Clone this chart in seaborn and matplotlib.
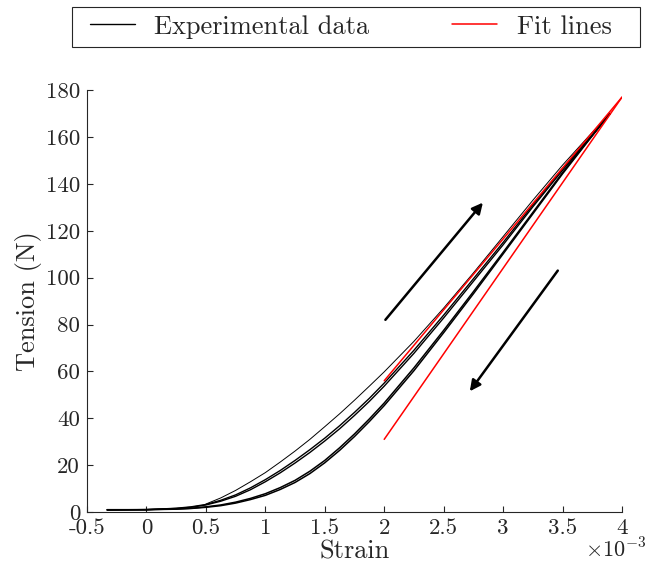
import numpy as np
import matplotlib
matplotlib.use("Agg")
import matplotlib.pyplot as plt
import seaborn as sns
from matplotlib.patches import Rectangle

# Strain in units of 1e-3, tension in N
strain = [-0.33, 0, 0.25, 0.375, 0.5, 0.625, 0.75, 0.875, 1.0, 1.125,
          1.25, 1.375, 1.5, 1.625, 1.75, 1.875, 2.0, 2.25, 2.5, 2.75,
          3.0, 3.25, 3.5, 3.75, 3.9]

# loading branches
load_1 = [1.0, 1.0, 1.6, 2.2, 3.2, 5.0, 7.3, 10.3, 13.8, 17.7,
          22.0, 26.6, 31.5, 36.8, 42.5, 48.5, 55.0, 69.0, 84.0, 99.5,
          115.0, 131.0, 146.5, 161.0, 170.0]
load_2 = [1.0, 1.0, 1.5, 2.0, 3.0, 4.6, 6.7, 9.5, 12.9, 16.7,
          20.9, 25.4, 30.3, 35.5, 41.2, 47.2, 53.7, 67.7, 82.8, 98.4,
          114.0, 130.2, 145.8, 160.6, 170.0]

# unloading branches
unload_1 = [0.8, 1.0, 1.3, 1.6, 2.2, 3.0, 4.2, 5.8, 7.8, 10.4,
            13.5, 17.4, 22.0, 27.4, 33.3, 39.7, 46.5, 61.5, 77.5, 94.0,
            110.8, 127.8, 144.8, 160.8, 170.0]
unload_2 = [0.9, 1.0, 1.2, 1.5, 2.0, 2.7, 3.8, 5.3, 7.1, 9.6,
            12.6, 16.4, 21.0, 26.3, 32.2, 38.6, 45.4, 60.3, 76.5, 93.1,
            110.1, 127.2, 144.3, 160.5, 170.0]

# first loading (thin line)
strain_first = [0.5, 0.625, 0.75, 0.875, 1.0, 1.125, 1.25, 1.375, 1.5,
                1.625, 1.75, 1.875, 2.0, 2.25, 2.5, 2.75, 3.0, 3.25, 3.5,
                3.75, 3.9]
first_load = [3.4, 6.0, 9.2, 12.9, 16.8, 21.3, 26.0, 31.0, 36.4,
              41.9, 47.7, 53.7, 59.8, 72.8, 87.0, 102.0, 117.5, 133.0, 148.0,
              162.0, 170.0]

# linear fits
fit_strain = [2.0, 4.0]
fit_load = [56.0, 177.0]
fit_unload = [31.0, 177.0]

# direction arrows (start, end)
arrow_up = [(2.01, 82.0), (2.83, 132.0)]
arrow_down = [(3.46, 103.0), (2.72, 51.5)]

xticks = [-0.5, 0, 0.5, 1, 1.5, 2, 2.5, 3, 3.5, 4]
yticks = list(range(0, 181, 20))

sns.set_style("ticks")
plt.rcParams['font.family'] = ['cmr10', 'DejaVu Serif']
plt.rcParams['mathtext.fontset'] = 'cm'
plt.rcParams['axes.unicode_minus'] = False

fig = plt.figure(figsize=(6.55, 5.64), dpi=100)
ax = fig.add_axes([0.1328, 0.0922, 0.8168, 0.748])

sns.lineplot(x=strain, y=load_1, color='k', lw=1.0, ax=ax, sort=False,
             estimator=None, label='Experimental data')
sns.lineplot(x=strain, y=load_2, color='k', lw=1.0, ax=ax, sort=False, estimator=None)
sns.lineplot(x=strain, y=unload_1, color='k', lw=1.1, ax=ax, sort=False, estimator=None)
sns.lineplot(x=strain, y=unload_2, color='k', lw=1.1, ax=ax, sort=False, estimator=None)
sns.lineplot(x=strain_first, y=first_load, color='k', lw=0.7, ax=ax, sort=False, estimator=None)
sns.lineplot(x=fit_strain, y=fit_load, color='red', lw=1.1, ax=ax, sort=False,
             estimator=None, label='Fit lines')
sns.lineplot(x=fit_strain, y=fit_unload, color='red', lw=1.1, ax=ax, sort=False, estimator=None)

for start, end in [arrow_up, arrow_down]:
    ax.annotate('', xy=end, xytext=start,
                arrowprops=dict(arrowstyle='-|>', color='k', lw=1.8,
                                mutation_scale=16, shrinkA=0, shrinkB=0))

ax.set_xlim(-0.5, 4)
ax.set_ylim(0, 180)
ax.set_xticks(xticks)
ax.set_xticklabels(['%g' % t for t in xticks])
ax.set_yticks(yticks)
ax.set_yticklabels([str(t) for t in yticks])
ax.tick_params(direction='in', length=4, width=0.8, color='#262626',
               labelsize=16.5, pad=5, top=False, right=False)
sns.despine(ax=ax)
for sp in ['left', 'bottom']:
    ax.spines[sp].set_color('#262626')
    ax.spines[sp].set_linewidth(0.8)

ax.set_xlabel('Strain', fontsize=19, labelpad=1)
ax.set_ylabel('Tension (N)', fontsize=19, labelpad=3)
fig.text(0.893, 0.026, r'$\times10^{-3}$', fontsize=16, va='center', ha='left')

# legend: entries laid out across the top, framed by a separate box
handles, labels = ax.get_legend_handles_labels()
if ax.get_legend() is not None:
    ax.get_legend().remove()
leg = fig.legend(handles, labels, loc='upper left', ncol=2, mode='expand',
                 bbox_to_anchor=(0.125, 0.0, 0.821, 0.9876), borderaxespad=0,
                 fontsize=19, handlelength=1.7, handletextpad=0.75,
                 borderpad=0.3, frameon=False)
fig.patches.append(Rectangle((0.1099, 0.9167), 0.8672, 0.0709,
                             transform=fig.transFigure, fill=False,
                             edgecolor='#262626', lw=0.8))

fig.savefig('out.png', dpi=100)
